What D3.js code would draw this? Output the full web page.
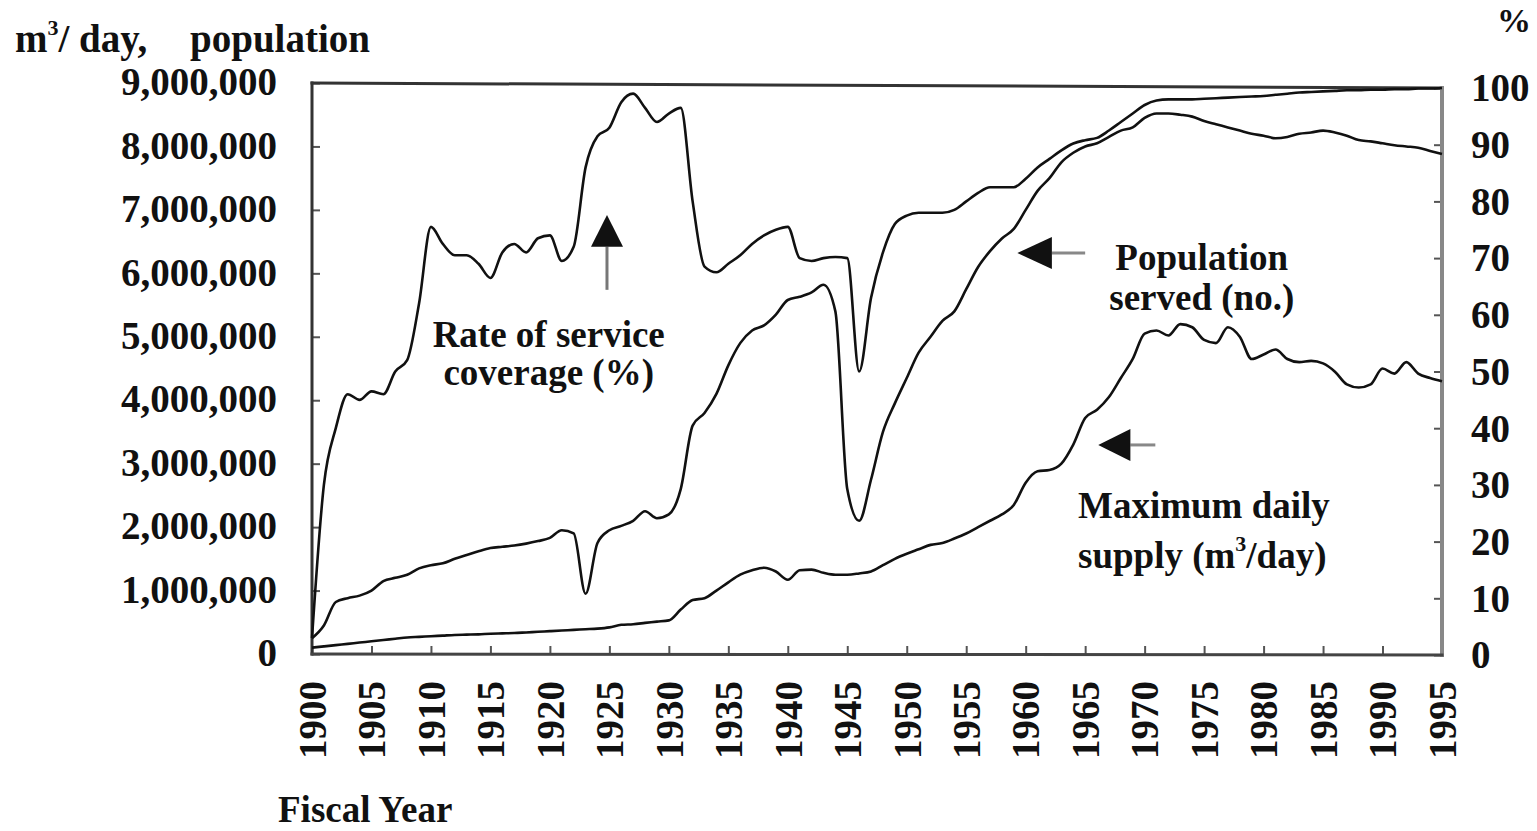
<!DOCTYPE html>
<html>
<head>
<meta charset="utf-8">
<script src="https://cdn.jsdelivr.net/npm/d3@7"></script>
<style>
  body { margin: 0; background: #fff; }
  svg { display: block; }
  text { font-family: "Liberation Serif", "Times New Roman", serif; font-weight: bold; fill: #111; }
</style>
</head>
<body>
<svg width="1537" height="831"></svg>
<script>
// fiscal years on the x axis
var years = [1900,1901,1902,1903,1904,1905,1906,1907,1908,1909,
             1910,1911,1912,1913,1914,1915,1916,1917,1918,1919,
             1920,1921,1922,1923,1924,1925,1926,1927,1928,1929,
             1930,1931,1932,1933,1934,1935,1936,1937,1938,1939,
             1940,1941,1942,1943,1944,1945,1946,1947,1948,1949,
             1950,1951,1952,1953,1954,1955,1956,1957,1958,1959,
             1960,1961,1962,1963,1964,1965,1966,1967,1968,1969,
             1970,1971,1972,1973,1974,1975,1976,1977,1978,1979,
             1980,1981,1982,1983,1984,1985,1986,1987,1988,1989,
             1990,1991,1992,1993,1994,1995];

// rate of service coverage (%), right axis
var rateData = [3,30,40,46,45,46.5,46,50,52,62,
                75.5,72.5,70.5,70.5,69,66.5,71,72.5,71,73.5,
                74,69.5,72,86,91.5,93,97.5,99,96.5,94,
                95.5,96.5,80,68.5,67.5,69,70.5,72.5,74,75,
                75.5,70,69.5,70,70.2,70,50,63,71,76,
                77.5,78,78,78,78.5,80,81.5,82.5,82.5,82.5,
                84,86,87.5,89,90.2,90.8,91.2,92.5,94,95.5,
                97,97.8,98,98,98,98.1,98.2,98.3,98.4,98.5,
                98.6,98.8,99,99.2,99.3,99.4,99.5,99.6,99.6,99.7,
                99.7,99.8,99.8,99.9,99.9,100];

// population served (no.), left axis
var popData = [250000,450000,820000,880000,920000,1000000,1150000,1200000,1250000,1350000,
               1400000,1430000,1500000,1560000,1620000,1670000,1690000,1710000,1740000,1780000,
               1830000,1950000,1900000,950000,1750000,1950000,2020000,2100000,2250000,2140000,
               2200000,2600000,3600000,3800000,4100000,4550000,4900000,5100000,5180000,5350000,
               5580000,5630000,5700000,5820000,5400000,2600000,2100000,2750000,3500000,3950000,
               4350000,4750000,5000000,5250000,5400000,5750000,6100000,6350000,6550000,6700000,
               7000000,7300000,7500000,7750000,7900000,8000000,8050000,8150000,8250000,8300000,
               8450000,8520000,8520000,8500000,8470000,8400000,8350000,8300000,8250000,8200000,
               8170000,8130000,8150000,8200000,8220000,8250000,8220000,8170000,8100000,8080000,
               8050000,8020000,8000000,7980000,7930000,7880000];

// maximum daily supply (m3/day), left axis
var supplyData = [100000,120000,140000,160000,180000,200000,220000,240000,260000,270000,
                  280000,290000,300000,305000,310000,320000,325000,330000,340000,350000,
                  360000,370000,380000,390000,400000,420000,460000,470000,490000,510000,
                  530000,700000,850000,880000,1000000,1130000,1250000,1320000,1360000,1300000,
                  1170000,1320000,1330000,1280000,1250000,1250000,1270000,1300000,1400000,1500000,
                  1580000,1650000,1720000,1750000,1820000,1900000,2000000,2100000,2200000,2350000,
                  2700000,2880000,2900000,3000000,3300000,3720000,3850000,4050000,4350000,4650000,
                  5050000,5100000,5020000,5200000,5150000,4950000,4900000,5150000,5000000,4650000,
                  4720000,4800000,4650000,4600000,4620000,4580000,4450000,4250000,4200000,4250000,
                  4500000,4420000,4600000,4420000,4350000,4300000];

// tick labels
var yearTicks = [1900,1905,1910,1915,1920,1925,1930,1935,1940,1945,
                 1950,1955,1960,1965,1970,1975,1980,1985,1990,1995];
var leftTicks = [0,1000000,2000000,3000000,4000000,5000000,6000000,7000000,8000000,9000000];
var rightTicks = [0,10,20,30,40,50,60,70,80,90,100];

var svg = d3.select("svg");

// scales (the scanned frame is slightly tilted, so left and right differ a bit)
var x = d3.scaleLinear().domain([1900, 1995]).range([312, 1442]);
var yL = d3.scaleLinear().domain([0, 9000000]).range([654, 83]);
var yR = d3.scaleLinear().domain([0, 100]).range([655, 88]);

// axes with inward ticks
var gLeft = svg.append("g").attr("transform", "translate(312,0)")
  .call(d3.axisLeft(yL).tickValues(leftTicks).tickFormat(d3.format(","))
        .tickSizeInner(-8).tickSizeOuter(0).tickPadding(35));
var gRight = svg.append("g").attr("transform", "translate(1442,0)")
  .call(d3.axisRight(yR).tickValues(rightTicks)
        .tickSizeInner(-8).tickSizeOuter(0).tickPadding(29));
var gBottom = svg.append("g").attr("transform", "translate(0,654)")
  .call(d3.axisBottom(x).tickValues(yearTicks).tickFormat(d3.format("d"))
        .tickSizeInner(-8).tickSizeOuter(0));

[gLeft, gRight, gBottom].forEach(function(g) {
  g.select(".domain").remove();
  g.selectAll("line").attr("stroke", "#555").attr("stroke-width", 2);
  g.selectAll("text").style("font-size", "39px")
    .style("font-family", "'Liberation Serif', 'Times New Roman', serif")
    .style("font-weight", "bold").attr("fill", "#111");
});
gLeft.selectAll("text").attr("dy", "0.3em");
gRight.selectAll("text").attr("dy", "0.33em");
// year labels stand upright, read bottom to top
gBottom.selectAll("text")
  .attr("transform", "rotate(-90)")
  .attr("text-anchor", "end")
  .attr("x", -27)
  .attr("y", 0)
  .attr("dy", "0.34em");

// frame
var frame = svg.append("g").attr("stroke-linecap", "square");
frame.append("line").attr("x1", x(1900)).attr("y1", yL(0)).attr("x2", x(1900)).attr("y2", yL(9000000))
  .attr("stroke", "#333").attr("stroke-width", 3);
frame.append("line").attr("x1", x(1900)).attr("y1", yL(9000000)).attr("x2", x(1995)).attr("y2", yR(100))
  .attr("stroke", "#333").attr("stroke-width", 3);
frame.append("line").attr("x1", x(1995)).attr("y1", yR(100)).attr("x2", x(1995)).attr("y2", yR(0))
  .attr("stroke", "#888").attr("stroke-width", 4);
frame.append("line").attr("x1", x(1900)).attr("y1", yL(0)).attr("x2", x(1995)).attr("y2", yR(0))
  .attr("stroke", "#444").attr("stroke-width", 3);

// the three series
var lineLeft = d3.line()
  .x(function(d, i) { return x(years[i]); })
  .y(function(d) { return yL(d); })
  .curve(d3.curveMonotoneX);
var lineRight = d3.line()
  .x(function(d, i) { return x(years[i]); })
  .y(function(d) { return yR(d); })
  .curve(d3.curveMonotoneX);

svg.append("path").datum(supplyData).attr("d", lineLeft)
  .attr("fill", "none").attr("stroke", "#111").attr("stroke-width", 2.6);
svg.append("path").datum(popData).attr("d", lineLeft)
  .attr("fill", "none").attr("stroke", "#111").attr("stroke-width", 2.6);
svg.append("path").datum(rateData).attr("d", lineRight)
  .attr("fill", "none").attr("stroke", "#111").attr("stroke-width", 2.6);

// axis titles
var t1 = svg.append("text").attr("x", 15).attr("y", 52).style("font-size", "39px");
t1.append("tspan").text("m");
t1.append("tspan").text("3").style("font-size", "22px").attr("dy", -17);
t1.append("tspan").text("/ day,").attr("dy", 17);
svg.append("text").attr("x", 190).attr("y", 52).style("font-size", "39px").text("population");
svg.append("text").attr("x", 1497).attr("y", 32).style("font-size", "34px").text("%");
svg.append("text").attr("x", 278).attr("y", 822).style("font-size", "37px").text("Fiscal Year");

// annotations, placed in data coordinates
var notes = svg.append("g").style("font-size", "37px");
notes.append("text").attr("x", x(1919.9)).attr("y", yL(4840000)).attr("text-anchor", "middle").text("Rate of service");
notes.append("text").attr("x", x(1919.9)).attr("y", yL(4240000)).attr("text-anchor", "middle").text("coverage (%)");
notes.append("text").attr("x", x(1974.8)).attr("y", yL(6060000)).attr("text-anchor", "middle").text("Population");
notes.append("text").attr("x", x(1974.8)).attr("y", yL(5420000)).attr("text-anchor", "middle").text("served (no.)");
notes.append("text").attr("x", x(1964.4)).attr("y", yL(2140000)).text("Maximum daily");
var s2 = notes.append("text").attr("x", x(1964.4)).attr("y", yL(1360000));
s2.append("tspan").text("supply (m");
s2.append("tspan").text("3").style("font-size", "22px").attr("dy", -17);
s2.append("tspan").text("/day)").attr("dy", 17);

// arrows
function upArrow(yr, tip, base, end) {
  var cx = x(yr);
  svg.append("line").attr("x1", cx).attr("x2", cx).attr("y1", yL(base)).attr("y2", yL(end))
    .attr("stroke", "#777").attr("stroke-width", 3);
  svg.append("path")
    .attr("d", "M" + cx + "," + yL(tip) + "L" + (cx - 16) + "," + yL(base) + "L" + (cx + 16) + "," + yL(base) + "Z")
    .attr("fill", "#111");
}
function leftArrow(val, tipYr, baseYr, endYr) {
  var cy = yL(val);
  svg.append("line").attr("x1", x(baseYr)).attr("x2", x(endYr)).attr("y1", cy).attr("y2", cy)
    .attr("stroke", "#888").attr("stroke-width", 3);
  svg.append("path")
    .attr("d", "M" + x(tipYr) + "," + cy + "L" + x(baseYr) + "," + (cy - 16) + "L" + x(baseYr) + "," + (cy + 16) + "Z")
    .attr("fill", "#111");
}
upArrow(1924.8, 6920000, 6420000, 5740000);
leftArrow(6320000, 1959.3, 1962.2, 1965.0);
leftArrow(3295000, 1966.1, 1968.8, 1970.9);
</script>
</body>
</html>
